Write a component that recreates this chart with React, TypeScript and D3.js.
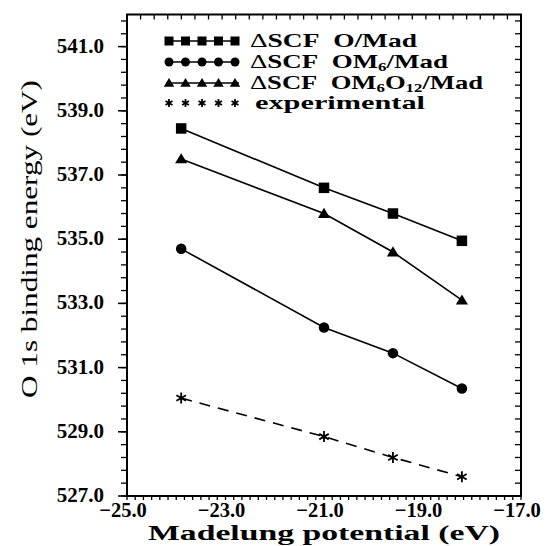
import React, { useEffect, useRef } from "react";
import * as d3 from "d3";

const potentials = [-23.9, -21.0, -19.6, -18.2];
const scfMad = [538.45, 536.6, 535.8, 534.95];
const scfOM6 = [534.7, 532.25, 531.45, 530.35];
const scfOM6O12 = [537.5, 535.8, 534.6, 533.1];
const experimental = [530.05, 528.85, 528.2, 527.6];

const xTicks = [-25, -23, -21, -19, -17];
const yTicks = [527, 529, 531, 533, 535, 537, 539, 541];

const legendRows = [
  { key: "square", label: ["O/Mad"] },
  { key: "circle", label: ["OM", "6", "/Mad"] },
  { key: "triangle", label: ["OM", "6", "O", "12", "/Mad"] },
  { key: "star", label: ["experimental"] },
];

const FONT = "Liberation Serif";

export default function App() {
  const ref = useRef<SVGSVGElement>(null);

  useEffect(() => {
    const svg = d3.select(ref.current);
    svg.selectAll("*").remove();

    const margin = { top: 14.5, right: 31, bottom: 50, left: 127 };
    const width = 552;
    const height = 546;
    const x = d3.scaleLinear().domain([-25, -17]).range([margin.left, width - margin.right]);
    const y = d3.scaleLinear().domain([527, 542]).range([height - margin.bottom, margin.top]);
    const [x0, x1] = x.range();
    const [y0, y1] = y.range();

    const g = svg.append("g").attr("font-family", FONT);

    // minor ticks
    const xMinor = d3.range(0, 49).map((i) => -25 + i / 6);
    const xTopMinor = d3.range(0, 30).map((i) => -25 + (i * 8) / 29);
    const yMinor = d3.range(0, 38).map((i) => 527 + i * 0.4);

    g.selectAll(".xb")
      .data(xMinor)
      .join("line")
      .attr("x1", (d) => x(d))
      .attr("x2", (d) => x(d))
      .attr("y1", y0)
      .attr("y2", y0 + 4)
      .attr("stroke", "#000")
      .attr("stroke-width", 1.3);
    g.selectAll(".xt")
      .data(xTopMinor)
      .join("line")
      .attr("x1", (d) => x(d))
      .attr("x2", (d) => x(d))
      .attr("y1", y1)
      .attr("y2", y1 + 5)
      .attr("stroke", "#000")
      .attr("stroke-width", 1.3);
    g.selectAll(".yl")
      .data(yMinor)
      .join("line")
      .attr("x1", x0 - 6)
      .attr("x2", x0)
      .attr("y1", (d) => y(d))
      .attr("y2", (d) => y(d))
      .attr("stroke", "#000")
      .attr("stroke-width", 1.3);
    g.selectAll(".yr")
      .data(yMinor)
      .join("line")
      .attr("x1", x1 - 6)
      .attr("x2", x1)
      .attr("y1", (d) => y(d))
      .attr("y2", (d) => y(d))
      .attr("stroke", "#000")
      .attr("stroke-width", 1.3);
    g.selectAll(".ymaj")
      .data(yTicks)
      .join("line")
      .attr("x1", x0 - 9)
      .attr("x2", x0)
      .attr("y1", (d) => y(d))
      .attr("y2", (d) => y(d))
      .attr("stroke", "#000")
      .attr("stroke-width", 1.5);

    // frame
    g.append("rect")
      .attr("x", x0)
      .attr("y", y1)
      .attr("width", x1 - x0)
      .attr("height", y0 - y1)
      .attr("fill", "none")
      .attr("stroke", "#000")
      .attr("stroke-width", 2);

    // tick labels
    g.selectAll(".xl")
      .data(xTicks)
      .join("text")
      .attr("x", (d) => x(d) - 4)
      .attr("y", y0 + 21)
      .attr("text-anchor", "middle")
      .attr("font-weight", "bold")
      .attr("font-size", 20.5)
      .text((d) => d3.format(".1f")(d).replace("-", "\u2212"));
    g.selectAll(".yl2")
      .data(yTicks)
      .join("text")
      .attr("x", x0 - 23)
      .attr("y", (d) => y(d) + 6)
      .attr("text-anchor", "end")
      .attr("font-weight", "bold")
      .attr("font-size", 21)
      .text((d) => d3.format(".1f")(d));

    // axis titles
    g.append("text")
      .attr("x", 148)
      .attr("y", 540)
      .attr("font-weight", "bold")
      .attr("font-size", 20)
      .attr("textLength", 352)
      .attr("lengthAdjust", "spacingAndGlyphs")
      .text("Madelung potential (eV)");
    g.append("text")
      .attr("transform", `translate(37, 398) rotate(-90)`)
      .attr("font-size", 23)
      .attr("textLength", 318)
      .attr("lengthAdjust", "spacingAndGlyphs")
      .text("O 1s binding energy (eV)");

    const line = d3
      .line<number>()
      .x((_, i) => x(potentials[i]))
      .y((d) => y(d));

    const series = [
      { key: "square", values: scfMad, dash: null },
      { key: "circle", values: scfOM6, dash: null },
      { key: "triangle", values: scfOM6O12, dash: null },
      { key: "star", values: experimental, dash: "11,8" },
    ];

    const drawMarker = (sel: any, key: string, cx: number, cy: number, s: number) => {
      if (key === "square") {
        sel.append("rect").attr("x", cx - s / 2).attr("y", cy - s / 2).attr("width", s).attr("height", s).attr("fill", "#000");
      } else if (key === "circle") {
        sel.append("circle").attr("cx", cx).attr("cy", cy).attr("r", s / 2).attr("fill", "#000");
      } else if (key === "triangle") {
        sel
          .append("path")
          .attr("d", `M${cx},${cy - s * 0.55}L${cx + s * 0.58},${cy + s * 0.42}L${cx - s * 0.58},${cy + s * 0.42}Z`)
          .attr("fill", "#000");
      } else {
        const r = s / 2;
        const p = d3.range(3).map((k) => {
          const a = (Math.PI / 3) * k + Math.PI / 2;
          return `M${cx + r * Math.cos(a)},${cy - r * Math.sin(a)}L${cx - r * Math.cos(a)},${cy + r * Math.sin(a)}`;
        });
        sel.append("path").attr("d", p.join("")).attr("stroke", "#000").attr("stroke-width", 1.8).attr("fill", "none");
      }
    };

    series.forEach((s) => {
      g.append("path")
        .attr("d", line(s.values))
        .attr("fill", "none")
        .attr("stroke", "#000")
        .attr("stroke-width", 1.6)
        .attr("stroke-dasharray", s.dash);
      s.values.forEach((v, i) => drawMarker(g, s.key, x(potentials[i]), y(v), s.key === "star" ? 11 : 10.5));
    });

    // legend
    const legendY = [41, 62, 83, 103];
    const legendWidths = [167, 198, 233, 170];
    legendRows.forEach((row, r) => {
      const ly = legendY[r];
      if (row.key !== "star") {
        g.append("line").attr("x1", 166).attr("x2", 239).attr("y1", ly).attr("y2", ly).attr("stroke", "#000").attr("stroke-width", 1.6);
      }
      d3.range(5).forEach((k) => drawMarker(g, row.key, 169 + k * 16.5, ly, row.key === "star" ? 8 : 9));
      const t = g
        .append("text")
        .attr("x", row.key === "star" ? 255 : 250)
        .attr("y", ly + 6)
        .attr("font-weight", "bold")
        .attr("font-size", 19)
        .attr("textLength", legendWidths[r])
        .attr("lengthAdjust", "spacingAndGlyphs");
      if (row.key !== "star") {
        t.append("tspan").attr("font-weight", "normal").text("\u0394");
        t.append("tspan").text("SCF\u00a0\u00a0");
      }
      row.label.forEach((part, i) => {
        const sub = /^\d+$/.test(part);
        t.append("tspan")
          .attr("font-size", sub ? 12 : 19)
          .attr("dy", sub ? 3 : i > 0 ? -3 : 0)
          .text(part);
      });
    });
  }, []);

  return <svg ref={ref} width={552} height={546} style={{ display: "block", position: "absolute", left: 0, top: 0 }} />;
}
